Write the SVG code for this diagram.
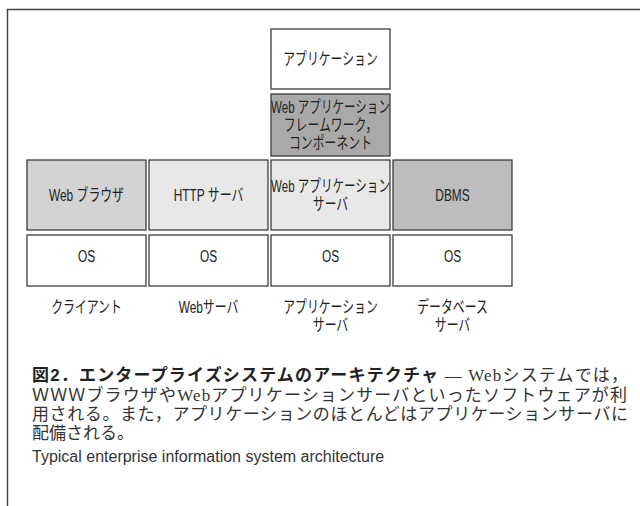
<svg xmlns="http://www.w3.org/2000/svg" width="640" height="506" viewBox="0 0 640 506">
<style>
.box{stroke:#3c3c3c;stroke-width:1.3}
.w{fill:#ffffff}
.g1{fill:#d3d3d3}
.g2{fill:#e8e8e8}
.g3{fill:#bdbdbd}
.g4{fill:#a9a9a9}
.t{font-family:"Liberation Sans","Noto Sans CJK JP",sans-serif;font-size:16.5px;fill:#222;text-anchor:middle}
.cap{font-family:"Liberation Serif","Noto Sans CJK JP",serif;font-size:17px;fill:#333}
.capb{font-family:"Liberation Sans","Noto Sans CJK JP",sans-serif;font-weight:bold;fill:#222}
.en{font-family:"Liberation Sans","Noto Sans CJK JP",sans-serif;font-size:16px;fill:#333}
</style>
<rect width="640" height="506" fill="#ffffff"/>
<g id="frame">
<path d="M7.5 506 V9.5 H640" fill="none" stroke="#444" stroke-width="1.5"/>
</g>
<g id="application">
<rect class="box w" x="271" y="29" width="119" height="60"/>
<text class="t" transform="translate(330.5 65) scale(0.72 1)">アプリケーション</text>
</g>
<g id="framework">
<rect class="box g4" x="271" y="94" width="119" height="62"/>
<text class="t" transform="translate(330.5 113) scale(0.7 1)">Web アプリケーション</text>
<text class="t" transform="translate(330.5 131) scale(0.72 1)">フレームワーク，</text>
<text class="t" transform="translate(330.5 149) scale(0.72 1)">コンポーネント</text>
</g>
<g id="web-browser">
<rect class="box g1" x="27" y="160" width="119" height="70"/>
<text class="t" transform="translate(86.5 201) scale(0.72 1)">Web ブラウザ</text>
</g>
<g id="http-server">
<rect class="box g2" x="149" y="160" width="119" height="70"/>
<text class="t" transform="translate(208.5 201) scale(0.72 1)">HTTP サーバ</text>
</g>
<g id="web-app-server">
<rect class="box g2" x="271" y="160" width="119" height="70"/>
<text class="t" transform="translate(330.5 192) scale(0.7 1)">Web アプリケーション</text>
<text class="t" transform="translate(330.5 210) scale(0.72 1)">サーバ</text>
</g>
<g id="dbms">
<rect class="box g3" x="393" y="160" width="119" height="70"/>
<text class="t" transform="translate(452.5 201) scale(0.72 1)">DBMS</text>
</g>
<g id="os-client">
<rect class="box w" x="27" y="235" width="119" height="51"/>
<text class="t" transform="translate(86.5 262) scale(0.72 1)">OS</text>
</g>
<g id="os-web">
<rect class="box w" x="149" y="235" width="119" height="51"/>
<text class="t" transform="translate(208.5 262) scale(0.72 1)">OS</text>
</g>
<g id="os-app">
<rect class="box w" x="271" y="235" width="119" height="51"/>
<text class="t" transform="translate(330.5 262) scale(0.72 1)">OS</text>
</g>
<g id="os-db">
<rect class="box w" x="393" y="235" width="119" height="51"/>
<text class="t" transform="translate(452.5 262) scale(0.72 1)">OS</text>
</g>
<g id="labels">
<text class="t" transform="translate(86.5 313) scale(0.72 1)">クライアント</text>
<text class="t" transform="translate(208.5 313) scale(0.72 1)">Webサーバ</text>
<text class="t" transform="translate(330.5 313) scale(0.72 1)">アプリケーション</text>
<text class="t" transform="translate(330.5 331) scale(0.72 1)">サーバ</text>
<text class="t" transform="translate(452.5 313) scale(0.72 1)">データベース</text>
<text class="t" transform="translate(452.5 331) scale(0.72 1)">サーバ</text>
</g>
<g id="connectors"></g>
<g id="caption">
<text class="cap" x="32" y="381" textLength="596" lengthAdjust="spacing"><tspan class="capb">図2．エンタープライズシステムのアーキテクチャ</tspan> — Webシステムでは，</text>
<text class="cap" x="32" y="401" textLength="595" lengthAdjust="spacing">ＷＷＷブラウザやWebアプリケーションサーバといったソフトウェアが利</text>
<text class="cap" x="32" y="420" textLength="596" lengthAdjust="spacing">用される。また，アプリケーションのほとんどはアプリケーションサーバに</text>
<text class="cap" x="32" y="439">配備される。</text>
<text class="en" x="32" y="462">Typical enterprise information system architecture</text>
</g>
</svg>
